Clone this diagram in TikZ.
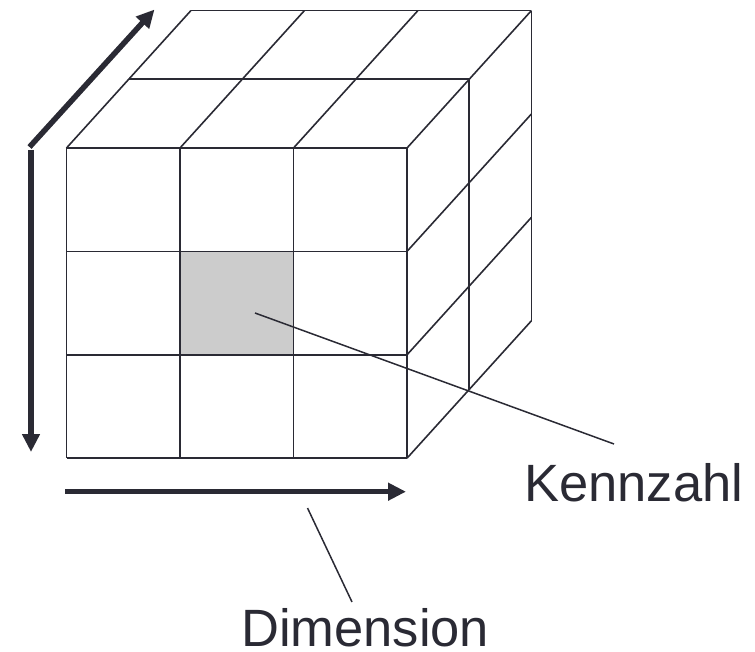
\documentclass[tikz,border=0pt]{standalone}
\usepackage{fontspec}
\setmainfont{Liberation Sans}
\usetikzlibrary{arrows.meta}

\definecolor{ink}{RGB}{42,42,52}
\definecolor{cellgray}{RGB}{204,204,204}

\tikzset{
  grid/.style={ink, line width=1.6pt},
  axis/.style={ink, line width=5.5pt, -{Triangle[length=18pt,width=17pt]}},
  leader/.style={ink, line width=1.5pt},
  lbl/.style={font=\fontsize{52.5}{60}\selectfont, text=ink, inner sep=0pt, anchor=base west}
}

\begin{document}
\begin{tikzpicture}[x=1pt,y=-1pt]
        \useasboundingbox (0,0) rectangle (755,652);

        % Masse des Wuerfels
        \def\xo{66.5}
        \def\yo{148}
        \def\w{113.5}
        \def\h{103.4}
        \def\dx{62.2}
        \def\dy{68.7}

        % Kennzahl-Zelle
        \fill[cellgray] (\xo+\w,\yo+\h) rectangle (\xo+2*\w,\yo+2*\h);

        % Vorderseite
        \foreach \i in {0,...,3} {
          \draw[grid] (\xo+\i*\w,\yo) -- (\xo+\i*\w,\yo+3*\h);
          \draw[grid] (\xo,\yo+\i*\h) -- (\xo+3*\w,\yo+\i*\h);
        }

        % Oberseite
        \foreach \i in {0,...,3}
          \draw[grid] (\xo+\i*\w,\yo) -- ++(2*\dx,-2*\dy);
        \foreach \k in {1,2}
          \draw[grid] (\xo+\k*\dx,\yo-\k*\dy) -- ++(3*\w,0);

        % Rechte Seite
        \foreach \j in {1,2,3}
          \draw[grid] (\xo+3*\w,\yo+\j*\h) -- ++(2*\dx,-2*\dy);
        \foreach \k in {1,2}
          \draw[grid] (\xo+3*\w+\k*\dx,\yo-\k*\dy) -- ++(0,3*\h);

        % Achsen
        \coordinate (vtop) at (31,150);
        \coordinate (vbot) at (31,452);
        \coordinate (dstart) at (29.5,147);
        \coordinate (dend) at (154.5,9.5);
        \coordinate (hstart) at (65,491.7);
        \coordinate (hend) at (406,491.7);
        \draw[axis] (vtop) -- (vbot);
        \draw[axis] (dstart) -- (dend);
        \draw[axis] (hstart) -- (hend);

        % Beschriftungen
        \node[lbl] (kz) at (524,501) {Kennzahl};
        \node[lbl, text depth=0pt] (dim) at (241,646) {Dimension};

        \coordinate (cell) at (255,313);
        \coordinate (kzend) at (614,444);
        \coordinate (dimtop) at (307.5,508);
        \coordinate (dimend) at (352,602);
        \draw[leader] (cell) -- (kzend);
        \draw[leader] (dimtop) -- (dimend);
\end{tikzpicture}
\end{document}
